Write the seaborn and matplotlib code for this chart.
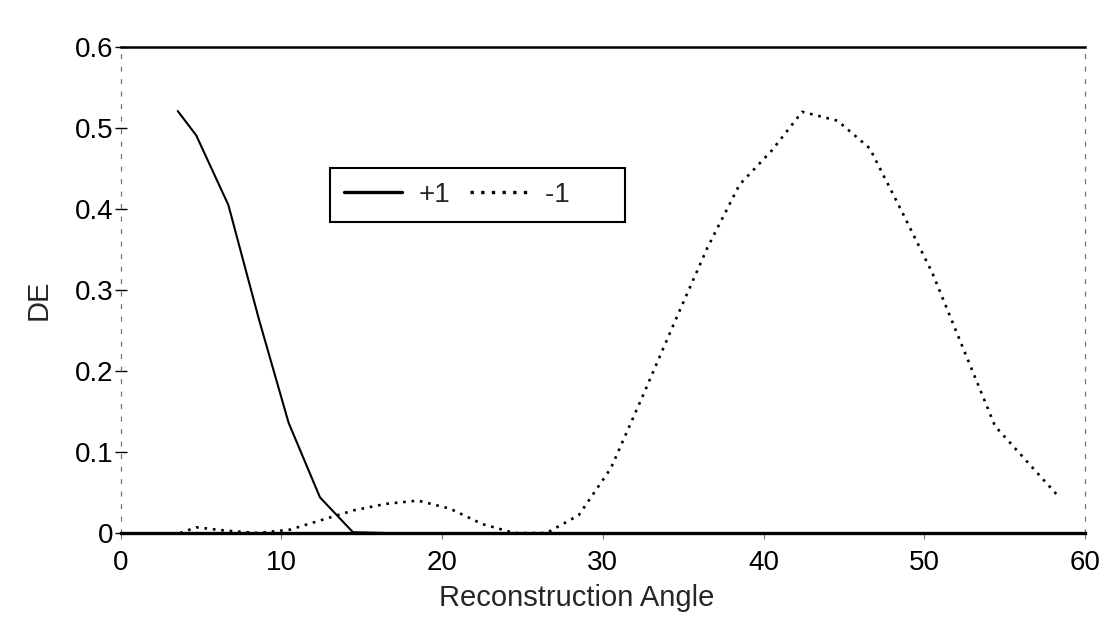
import matplotlib
matplotlib.use("Agg")
import matplotlib.pyplot as plt
import seaborn as sns
import pandas as pd

# Diffraction efficiency of the +1 and -1 orders vs. reconstruction angle
angle_plus = [3.55, 4.7, 6.7, 8.6, 10.45, 12.4, 14.45, 16.5]
de_plus = [0.521, 0.491, 0.405, 0.264, 0.136, 0.044, 0.001, 0.0]

angle_minus = [3.7, 4.7, 6.5, 8.5, 10.5, 12.5, 14.5, 16.5, 18.5, 20.5, 22.5,
               24.5, 26.5, 28.5, 30.5, 32.5, 34.5, 36.5, 38.5, 40.5, 42.4,
               44.6, 46.6, 48.6, 50.5, 52.5, 54.4, 56.4, 58.4]
de_minus = [0.0, 0.007, 0.003, 0.0, 0.004, 0.016, 0.028, 0.036, 0.040, 0.030,
            0.011, 0.0, 0.0, 0.022, 0.080, 0.170, 0.262, 0.352, 0.430, 0.472,
            0.520, 0.509, 0.475, 0.397, 0.321, 0.224, 0.132, 0.088, 0.044]

series_labels = ["+1", "-1"]
x_ticks = [0, 10, 20, 30, 40, 50, 60]
y_ticks = [0, 0.1, 0.2, 0.3, 0.4, 0.5, 0.6]
y_tick_labels = ["0", "0.1", "0.2", "0.3", "0.4", "0.5", "0.6"]

sns.set_theme(style="white")
plt.rcParams["font.family"] = ["Liberation Sans", "DejaVu Sans"]

fig = plt.figure(figsize=(11.09, 6.21), dpi=100)
ax = fig.add_axes([0.1088, 0.1417, 0.8696, 0.7826])

df_plus = pd.DataFrame({"angle": angle_plus, "DE": de_plus})
df_minus = pd.DataFrame({"angle": angle_minus, "DE": de_minus})

sns.lineplot(data=df_plus, x="angle", y="DE", ax=ax, color="black",
             linewidth=1.5, label=series_labels[0])
# trailing spaces leave the empty room at the right end of the legend box
sns.lineplot(data=df_minus, x="angle", y="DE", ax=ax, color="black",
             linewidth=1.9, linestyle=(0, (1, 2.2)),
             label=series_labels[1] + "\u2002\u2002\u2002")

ax.set_xlim(0, 60)
ax.set_ylim(0, 0.6)
ax.set_xticks(x_ticks)
ax.set_xticklabels([str(t) for t in x_ticks])
ax.set_yticks(y_ticks)
ax.set_yticklabels(y_tick_labels)

ax.tick_params(axis="both", labelsize=20, colors="black")
ax.tick_params(axis="y", direction="inout", length=9, width=1.0,
               left=True, pad=1)
ax.tick_params(axis="x", direction="out", length=4, width=0.8,
               bottom=True, pad=8, color="0.45")

ax.set_xlabel("Reconstruction Angle", fontsize=21)
ax.set_ylabel("DE", fontsize=21)
ax.xaxis.set_label_coords(0.473, -0.105)
ax.yaxis.set_label_coords(-0.071, 0.48)

# frame: solid top and bottom, faint broken sides
ax.spines["top"].set_color("black")
ax.spines["top"].set_linewidth(1.8)
ax.spines["bottom"].set_color("black")
ax.spines["bottom"].set_linewidth(2.4)
for side in ("left", "right"):
    ax.spines[side].set_color("0.45")
    ax.spines[side].set_linewidth(0.9)
    ax.spines[side].set_linestyle((0, (3, 7)))

leg = ax.legend(loc="upper left", bbox_to_anchor=(0.217, 0.751), ncol=2,
                fontsize=20, handlelength=2.1, handletextpad=0.6,
                columnspacing=0.7, borderpad=0.5, borderaxespad=0,
                frameon=True, fancybox=False, framealpha=1)
leg.get_frame().set_edgecolor("black")
leg.get_frame().set_linewidth(1.5)
for line in leg.get_lines():
    line.set_linewidth(2.4)

fig.savefig("out.png", dpi=100)
